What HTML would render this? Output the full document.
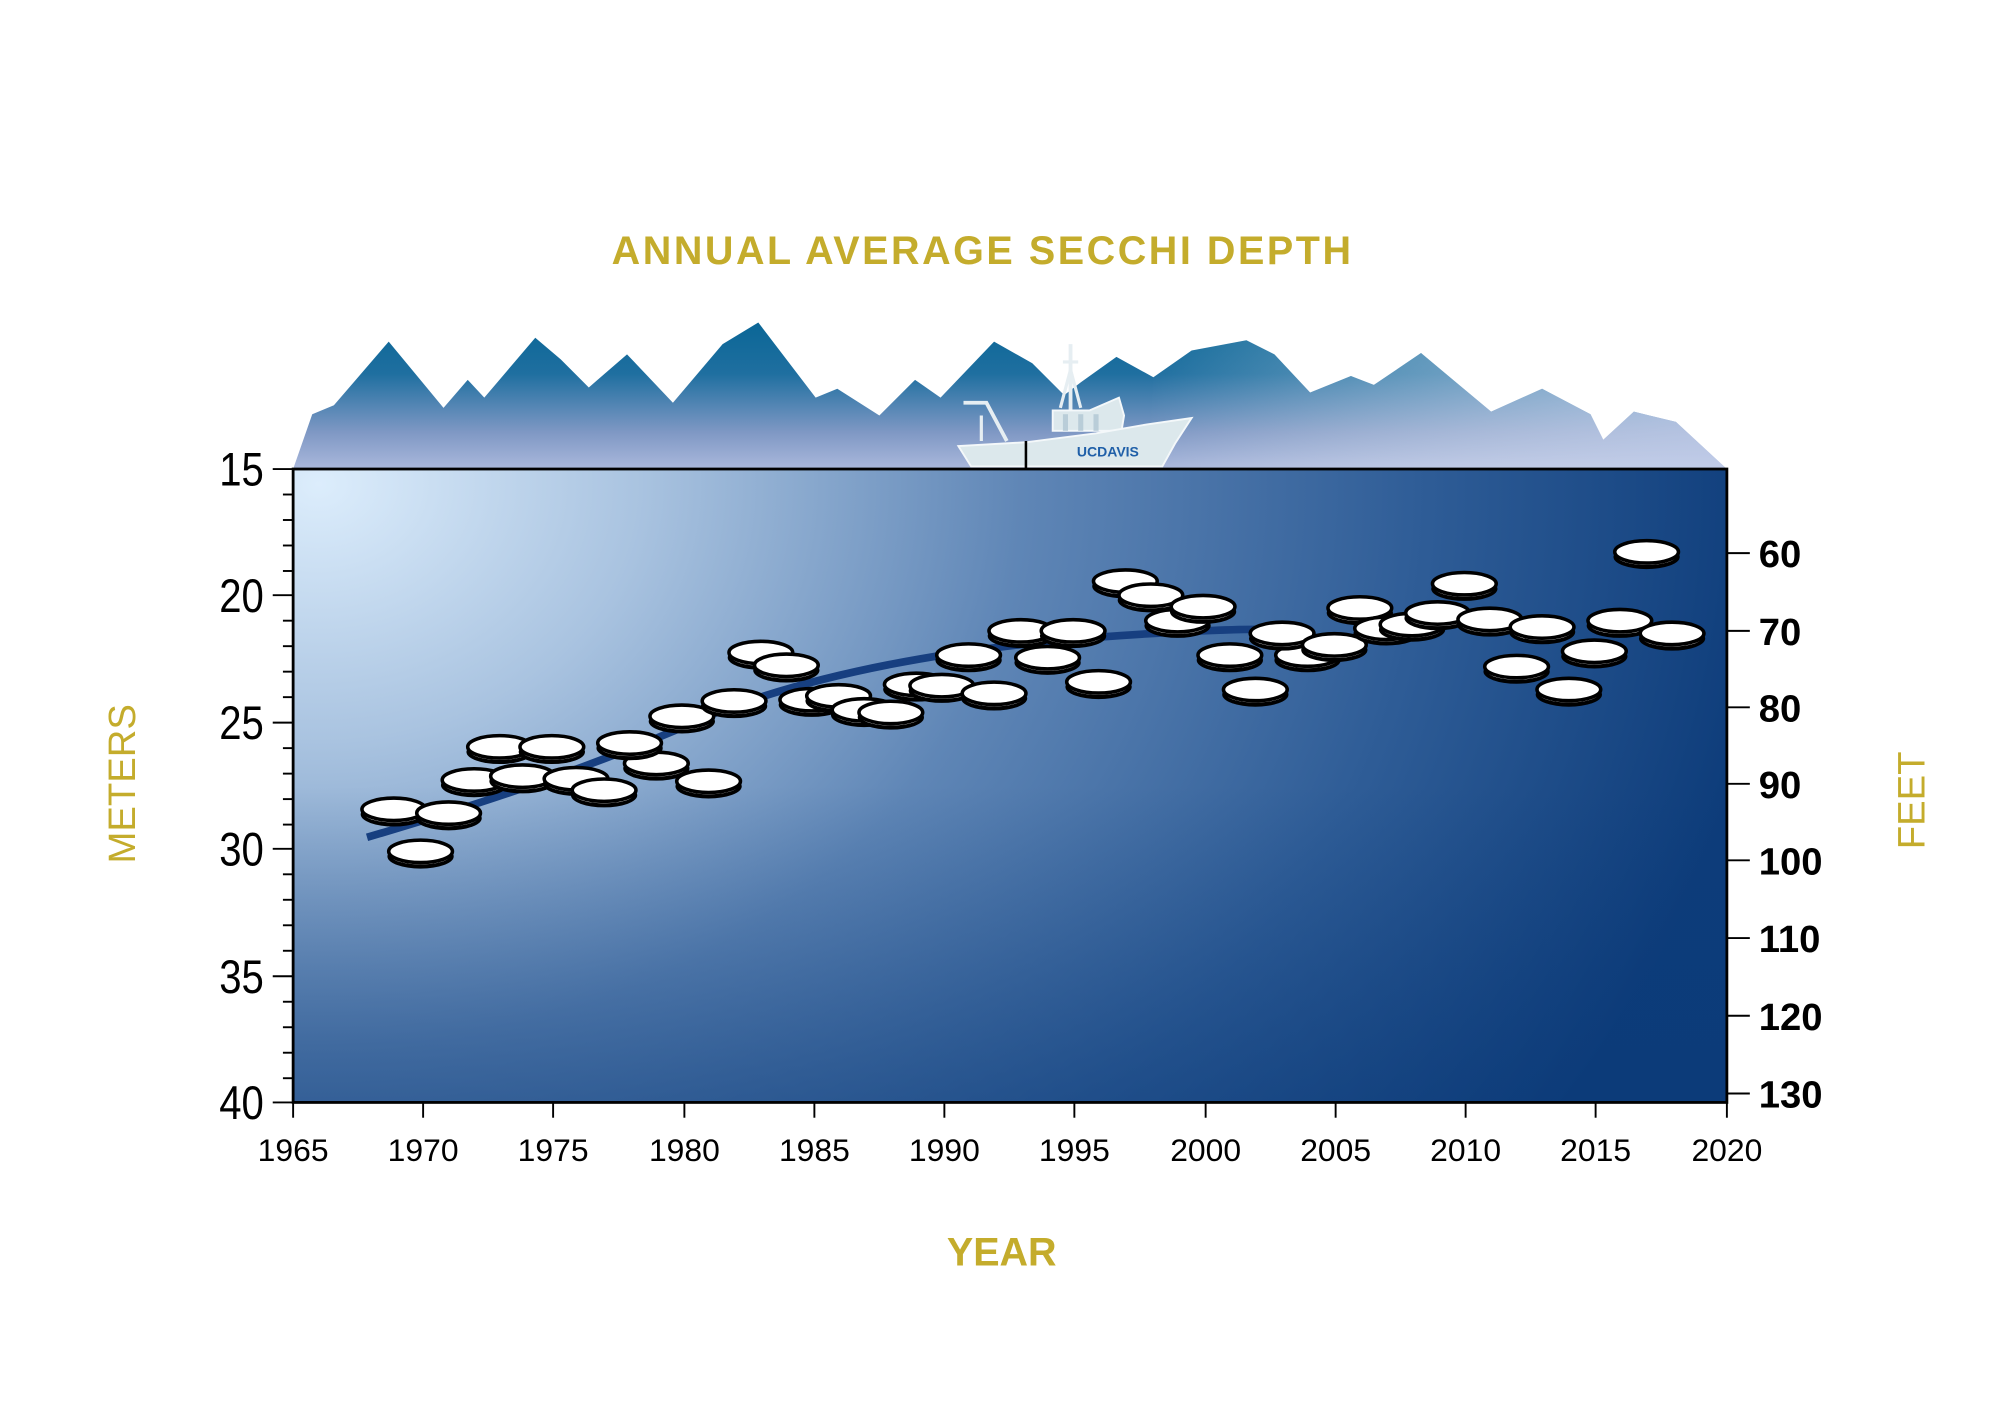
<!DOCTYPE html>
<html><head><meta charset="utf-8"><style>
html,body{margin:0;padding:0;background:#fff;}
svg{display:block;}
</style></head><body>
<svg width="2000" height="1411" viewBox="0 0 1569.3 1107.1" xmlns="http://www.w3.org/2000/svg">
<defs>
<linearGradient id="mtn" x1="0" y1="253" x2="0" y2="368" gradientUnits="userSpaceOnUse">
<stop offset="0" stop-color="#0a6696"/><stop offset="0.35" stop-color="#1f6fa0"/><stop offset="0.75" stop-color="#7f98c4"/><stop offset="1" stop-color="#aab8dc"/></linearGradient>
<linearGradient id="mtnR" x1="900" y1="0" x2="1360" y2="0" gradientUnits="userSpaceOnUse">
<stop offset="0" stop-color="#fff" stop-opacity="0"/><stop offset="1" stop-color="#c8d2ec" stop-opacity="0.75"/></linearGradient>
<radialGradient id="bg" cx="250" cy="380" r="1150" gradientUnits="userSpaceOnUse" gradientTransform="translate(250 380) scale(1 0.8) translate(-250 -380)">
<stop offset="0" stop-color="#dcedfc"/><stop offset="0.22" stop-color="#a9c3e0"/><stop offset="0.48" stop-color="#5f86b6"/><stop offset="0.75" stop-color="#2f5d97"/><stop offset="1" stop-color="#0d3c7a"/></radialGradient>
<linearGradient id="vig" x1="0" y1="368" x2="0" y2="865" gradientUnits="userSpaceOnUse">
<stop offset="0.5" stop-color="#0b3a78" stop-opacity="0"/><stop offset="1" stop-color="#0b3a78" stop-opacity="0.45"/></linearGradient>
<g id="d">
<ellipse cx="0" cy="4" rx="26" ry="9.5" fill="#000"/>
<ellipse cx="0" cy="3" rx="23.5" ry="7.3" fill="#fff"/>
<ellipse cx="0" cy="0" rx="25" ry="8.8" fill="#fff" stroke="#000" stroke-width="2.8"/>
</g>
</defs>
<polygon fill="url(#mtn)" points="230,368 245,325 262,318 305,268 348,320 367,298 380,312 420,265 440,282 462,304 492,278 528,316 567,270 595,253 640,312 657,305 690,326 718,298 738,312 780,268 810,285 835,310 848,300 876,280 905,296 935,275 978,267 1000,278 1028,308 1060,295 1078,302 1115,277 1170,323 1210,305 1248,325 1258,345 1282,323 1315,331 1355,368"/>
<polygon fill="url(#mtnR)" points="900,368 905,296 935,275 978,267 1000,278 1028,308 1060,295 1078,302 1115,277 1170,323 1210,305 1248,325 1258,345 1282,323 1315,331 1355,368"/>
<g fill="#dce8ec" stroke="#f4f8fa" stroke-width="1.5">
<polyline points="756,316 774,316 790,346" fill="none" stroke="#e6eef2" stroke-width="3"/>
<line x1="770" y1="326" x2="770" y2="346" stroke="#e6eef2" stroke-width="2.5"/>
<line x1="840" y1="270" x2="840" y2="322" stroke="#e6eef2" stroke-width="3"/>
<line x1="834" y1="284" x2="846" y2="284" stroke="#e6eef2" stroke-width="2.5"/>
<polyline points="832,320 840,290 848,320" fill="none" stroke="#e6eef2" stroke-width="2.5"/>
<polygon points="826,338 826,322 855,322 878,312 882,326 880,338"/>
<polygon points="752,350 805,347 860,340 900,333 935,328 922,348 912,366 762,366"/>
</g>
<rect x="834" y="325" width="4" height="13" fill="#b9cdd8"/>
<rect x="846" y="325" width="4" height="13" fill="#b9cdd8"/>
<rect x="858" y="325" width="4" height="13" fill="#b9cdd8"/>
<text x="845" y="358" font-family="Liberation Sans, sans-serif" font-size="11" fill="#1f5fa8" font-weight="bold">UC<tspan font-weight="900">DAVIS</tspan></text>
<line x1="805" y1="346" x2="805" y2="368" stroke="#000" stroke-width="2"/>
<rect x="230" y="368" width="1125" height="497" fill="url(#bg)"/>
<rect x="230" y="368" width="1125" height="497" fill="url(#vig)"/>
<rect x="230" y="368" width="1125" height="497" fill="none" stroke="#000" stroke-width="2.2"/>
<path d="M288,657 C380,630 470,600 560,560 C650,525 760,508 860,500 C930,495 980,493 1005,494" fill="none" stroke="#173f80" stroke-width="6"/>
<g stroke="#000" stroke-width="1.5">
<line x1="214" y1="368" x2="230" y2="368"/><line x1="222" y1="388" x2="230" y2="388"/><line x1="222" y1="408" x2="230" y2="408"/><line x1="222" y1="428" x2="230" y2="428"/><line x1="222" y1="448" x2="230" y2="448"/>
<line x1="214" y1="467" x2="230" y2="467"/><line x1="222" y1="487" x2="230" y2="487"/><line x1="222" y1="507" x2="230" y2="507"/><line x1="222" y1="527" x2="230" y2="527"/><line x1="222" y1="547" x2="230" y2="547"/>
<line x1="214" y1="567" x2="230" y2="567"/><line x1="222" y1="587" x2="230" y2="587"/><line x1="222" y1="607" x2="230" y2="607"/><line x1="222" y1="627" x2="230" y2="627"/><line x1="222" y1="647" x2="230" y2="647"/>
<line x1="214" y1="666" x2="230" y2="666"/><line x1="222" y1="686" x2="230" y2="686"/><line x1="222" y1="706" x2="230" y2="706"/><line x1="222" y1="726" x2="230" y2="726"/><line x1="222" y1="746" x2="230" y2="746"/>
<line x1="214" y1="766" x2="230" y2="766"/><line x1="222" y1="786" x2="230" y2="786"/><line x1="222" y1="806" x2="230" y2="806"/><line x1="222" y1="826" x2="230" y2="826"/><line x1="222" y1="846" x2="230" y2="846"/>
<line x1="214" y1="865" x2="230" y2="865"/>
<line x1="230" y1="865" x2="230" y2="877"/><line x1="332" y1="865" x2="332" y2="877"/><line x1="434" y1="865" x2="434" y2="877"/><line x1="537" y1="865" x2="537" y2="877"/><line x1="639" y1="865" x2="639" y2="877"/><line x1="741" y1="865" x2="741" y2="877"/><line x1="843" y1="865" x2="843" y2="877"/><line x1="946" y1="865" x2="946" y2="877"/><line x1="1048" y1="865" x2="1048" y2="877"/><line x1="1150" y1="865" x2="1150" y2="877"/><line x1="1252" y1="865" x2="1252" y2="877"/><line x1="1355" y1="865" x2="1355" y2="877"/>
<line x1="1355" y1="434" x2="1373" y2="434"/><line x1="1355" y1="495" x2="1373" y2="495"/><line x1="1355" y1="555" x2="1373" y2="555"/><line x1="1355" y1="615" x2="1373" y2="615"/><line x1="1355" y1="675" x2="1373" y2="675"/><line x1="1355" y1="736" x2="1373" y2="736"/><line x1="1355" y1="797" x2="1373" y2="797"/><line x1="1355" y1="858" x2="1373" y2="858"/>
</g>
<g font-family="Liberation Sans, sans-serif" font-size="37" fill="#000" text-anchor="end" transform="translate(207 0) scale(0.85 1)">
<text x="0" y="381">15</text><text x="0" y="480">20</text><text x="0" y="580">25</text><text x="0" y="679">30</text><text x="0" y="779">35</text><text x="0" y="878">40</text>
</g>
<g font-family="Liberation Sans, sans-serif" font-size="30" font-weight="bold" fill="#000">
<text x="1380" y="445">60</text><text x="1380" y="506">70</text><text x="1380" y="566">80</text><text x="1380" y="626">90</text><text x="1380" y="686">100</text><text x="1380" y="747">110</text><text x="1380" y="808">120</text><text x="1380" y="869">130</text>
</g>
<g font-family="Liberation Sans, sans-serif" font-size="25" fill="#000" text-anchor="middle">
<text x="230" y="911">1965</text><text x="332" y="911">1970</text><text x="434" y="911">1975</text><text x="537" y="911">1980</text><text x="639" y="911">1985</text><text x="741" y="911">1990</text><text x="843" y="911">1995</text><text x="946" y="911">2000</text><text x="1048" y="911">2005</text><text x="1150" y="911">2010</text><text x="1252" y="911">2015</text><text x="1355" y="911">2020</text>
</g>
<g font-family="Liberation Sans, sans-serif" fill="#c4ac2c">
<text x="771" y="207" font-size="31" font-weight="bold" letter-spacing="2" text-anchor="middle">ANNUAL AVERAGE SECCHI DEPTH</text>
<text x="786" y="993" font-size="31" font-weight="bold" text-anchor="middle">YEAR</text>
<text transform="translate(106 615) rotate(-90)" font-size="30" text-anchor="middle">METERS</text>
<text transform="translate(1510 628) rotate(-90)" font-size="30" text-anchor="middle">FEET</text>
</g>
<use href="#d" x="309" y="635"/><use href="#d" x="352" y="638"/><use href="#d" x="330" y="668"/>
<use href="#d" x="372" y="612"/><use href="#d" x="410" y="609"/><use href="#d" x="392" y="586"/><use href="#d" x="433" y="586"/>
<use href="#d" x="452" y="611"/><use href="#d" x="474" y="620"/><use href="#d" x="515" y="599"/><use href="#d" x="494" y="583"/>
<use href="#d" x="556" y="613"/><use href="#d" x="535" y="562"/><use href="#d" x="576" y="550"/>
<use href="#d" x="597" y="512"/><use href="#d" x="617" y="522"/><use href="#d" x="637" y="549"/><use href="#d" x="658" y="546"/>
<use href="#d" x="678" y="557"/><use href="#d" x="699" y="559"/><use href="#d" x="719" y="537"/><use href="#d" x="739" y="538"/>
<use href="#d" x="760" y="514"/><use href="#d" x="780" y="544"/><use href="#d" x="801" y="495"/><use href="#d" x="842" y="495"/><use href="#d" x="822" y="516"/>
<use href="#d" x="862" y="535"/><use href="#d" x="883" y="456"/><use href="#d" x="903" y="467"/><use href="#d" x="924" y="487"/><use href="#d" x="944" y="476"/>
<use href="#d" x="965" y="514"/><use href="#d" x="985" y="541"/><use href="#d" x="1026" y="514"/><use href="#d" x="1006" y="497"/><use href="#d" x="1047" y="506"/>
<use href="#d" x="1067" y="477"/><use href="#d" x="1088" y="493"/><use href="#d" x="1108" y="490"/><use href="#d" x="1128" y="481"/><use href="#d" x="1149" y="458"/>
<use href="#d" x="1169" y="486"/><use href="#d" x="1190" y="523"/><use href="#d" x="1210" y="492"/><use href="#d" x="1231" y="541"/><use href="#d" x="1251" y="511"/>
<use href="#d" x="1271" y="487"/><use href="#d" x="1292" y="433"/><use href="#d" x="1312" y="497"/>
</svg>
</body></html>
